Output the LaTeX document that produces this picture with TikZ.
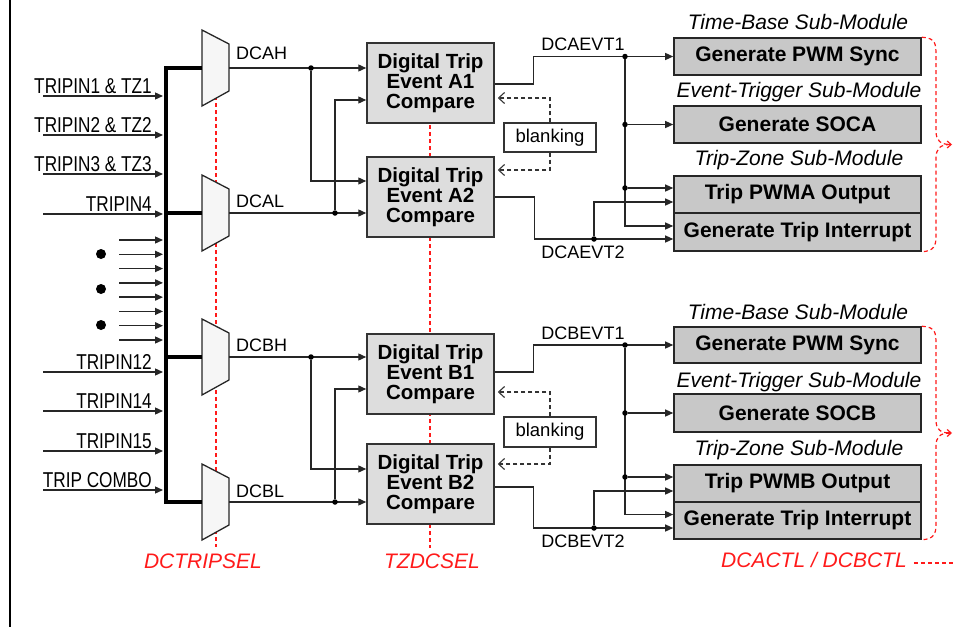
\documentclass[tikz,border=0pt]{standalone}
\usepackage{fontspec}
\setmainfont{Liberation Sans}
\newfontfamily\narrowfont{Liberation Sans}[FakeStretch=0.8]
\usetikzlibrary{arrows.meta,calc}
\definecolor{cmpfill}{HTML}{DDDDDD}
\definecolor{modfill}{HTML}{C8C8C8}
\definecolor{muxfill}{HTML}{F6F6F6}
\definecolor{regred}{HTML}{FF1A1A}
\tikzset{
  wire/.style={line width=1.3pt, draw=black!85},
  arr/.style={wire, -{Triangle[length=8pt,width=7pt]}},
  busline/.style={line width=3.2pt, draw=black},
  jdot/.style={circle, fill=black, inner sep=0pt, minimum size=5.5pt},
  bigdot/.style={circle, fill=black, inner sep=0pt, minimum size=10pt},
  cmpbox/.style={draw=black!80, line width=1.5pt, fill=cmpfill, minimum width=127pt, minimum height=80pt,
    inner sep=0pt, align=center, font=\fontsize{20.5}{20}\selectfont\bfseries},
  modbox/.style={draw=black!85, line width=1.6pt, fill=modfill, minimum width=247pt, minimum height=37pt,
    inner sep=0pt, font=\fontsize{21}{22}\selectfont\bfseries},
  sublbl/.style={inner sep=0pt, font=\fontsize{21}{22}\selectfont\itshape},
  siglbl/.style={inner sep=0pt, font=\fontsize{18}{20}\selectfont},
  tripin/.style={inner sep=0pt, anchor=base east, font=\narrowfont\fontsize{21.5}{22}\selectfont},
  blankbox/.style={draw=black!80, line width=1.1pt, fill=white, minimum width=92pt, minimum height=29pt,
    inner sep=0pt, font=\fontsize{18.5}{20}\selectfont},
  dasharr/.style={draw=black!80, line width=1.1pt, dash pattern=on 4pt off 3pt,
    -{Straight Barb[length=6pt,width=11pt]}, shorten >=3pt},
  reddash/.style={draw=regred, line width=1.2pt, dash pattern=on 4pt off 3pt},
  redlbl/.style={inner sep=0pt, text=regred, font=\fontsize{21}{22}\selectfont\itshape},
  mux/.pic={\draw[line width=1.3pt, draw=black!85, fill=muxfill] (-13.5,-38) -- (13.5,-24) -- (13.5,23) -- (-13.5,38) -- cycle;
    \coordinate (-in) at (-13.5,0); \coordinate (-out) at (13.5,0);}
}
\begin{document}
\begin{tikzpicture}[x=1pt,y=-1pt]
\useasboundingbox (0,0) rectangle (954,627);
% frame edge
\coordinate (fr1) at (10,0); \coordinate (fr2) at (10,627);
\draw[line width=2.5pt] (fr1) -- (fr2);

% register select lines (behind)
\coordinate (selA) at (216,68); \coordinate (selB) at (216,547);
\draw[reddash] (selA) -- (selB);
\coordinate (tzA) at (430,83); \coordinate (tzB) at (430,548);
\draw[reddash] (tzA) -- (tzB);

% inputs
\foreach \y/\t [count=\i] in {96/{TRIPIN1 \& TZ1},135/{TRIPIN2 \& TZ2},174/{TRIPIN3 \& TZ3},214/{TRIPIN4},
   372/{TRIPIN12},411/{TRIPIN14},451/{TRIPIN15},490/{TRIP COMBO}}{
  \coordinate (ins\i) at (43,\y); \coordinate (ine\i) at (163,\y);
  \draw[arr] (ins\i) -- (ine\i);
  \node[tripin] (inl\i) at (152,\y-2.5) {\t};
}
\foreach \k in {0,...,7}{
  \coordinate (sms\k) at (119,240+14.286*\k); \coordinate (sme\k) at (163,240+14.286*\k);
  \draw[arr] (sms\k) -- (sme\k);
}
\node[bigdot] (dd1) at (101,254) {};
\node[bigdot] (dd2) at (101,289) {};
\node[bigdot] (dd3) at (101,325) {};

% muxes
\pic (mAH) at (215.5,68) {mux};
\pic (mAL) at (215.5,213) {mux};
\pic (mBH) at (215.5,357) {mux};
\pic (mBL) at (215.5,502) {mux};

% bus
\coordinate (busT) at (166,68); \coordinate (busB) at (166,502);
\coordinate (busAL) at (166,213); \coordinate (busBH) at (166,357);
\draw[busline] (mAH-in) -- (busT) -- (busB) -- (mBL-in);
\draw[busline] (busAL) -- (mAL-in);
\draw[busline] (busBH) -- (mBH-in);

\node[siglbl, anchor=west] (lAH) at (236,53) {DCAH};
\node[siglbl, anchor=west] (lAL) at (236,201) {DCAL};
\node[siglbl, anchor=west] (lBH) at (236,345) {DCBH};
\node[siglbl, anchor=west] (lBL) at (236,491) {DCBL};

% compare blocks
\node[cmpbox] (A1) at (430.5,83) {Digital Trip\\Event A1\\Compare};
\node[cmpbox] (A2) at (430.5,197) {Digital Trip\\Event A2\\Compare};
\node[cmpbox] (B1) at (430.5,374) {Digital Trip\\Event B1\\Compare};
\node[cmpbox] (B2) at (430.5,484) {Digital Trip\\Event B2\\Compare};

% A inputs
\draw[arr] (mAH-out) -- (A1.west |- mAH-out);
\draw[arr] (mAL-out) -- (A2.west |- mAL-out);
\node[jdot] (jAH) at (311,68) {};
\node[jdot] (jAL) at (335,213) {};
\draw[arr] (jAH) |- ($(A2.west)+(0,-16)$);
\draw[arr] (jAL) |- ($(A1.west)+(0,17)$);
% B inputs
\draw[arr] (mBH-out) -- (B1.west |- mBH-out);
\draw[arr] (mBL-out) -- (B2.west |- mBL-out);
\node[jdot] (jBH) at (311,357) {};
\node[jdot] (jBL) at (335,502) {};
\draw[arr] (jBH) |- ($(B2.west)+(0,-15)$);
\draw[arr] (jBL) |- ($(B1.west)+(0,15)$);

% blanking
\node[blankbox] (blA) at (550,137.5) {blanking};
\node[blankbox, minimum height=30pt] (blB) at (550,432) {blanking};
\draw[dasharr] (blA.north) |- ($(A1.east)+(0,15)$);
\draw[dasharr] (blA.south) |- ($(A2.east)+(0,-27)$);
\draw[dasharr] (blB.north) |- ($(B1.east)+(0,18)$);
\draw[dasharr] (blB.south) |- ($(B2.east)+(0,-20)$);

% right modules A
\node[sublbl] (tbA) at (798,22) {Time-Base Sub-Module};
\node[modbox] (SyncA) at (797.5,56.5) {Generate PWM Sync};
\node[sublbl] (etA) at (799,92) {Event-Trigger Sub-Module};
\node[modbox] (SocA) at (797.5,124.5) {Generate SOCA};
\node[sublbl] (tzlA) at (799,160) {Trip-Zone Sub-Module};
\node[modbox] (TripA) at (797.5,194.5) {Trip PWMA Output};
\node[modbox, minimum height=38pt] (IntA) at (797.5,232) {Generate Trip Interrupt};

% right modules B
\node[sublbl] (tbB) at (798,312) {Time-Base Sub-Module};
\node[modbox, minimum height=36pt] (SyncB) at (797.5,345) {Generate PWM Sync};
\node[sublbl] (etB) at (799,382) {Event-Trigger Sub-Module};
\node[modbox, minimum height=38pt] (SocB) at (797.5,413) {Generate SOCB};
\node[sublbl] (tzlB) at (799,450) {Trip-Zone Sub-Module};
\node[modbox] (TripB) at (797.5,483.5) {Trip PWMB Output};
\node[modbox] (IntB) at (797.5,520.5) {Generate Trip Interrupt};

% A event wiring
\draw[arr] ($(A1.east)+(0,1)$) -- ++(39,0) |- (SyncA.west);
\node[jdot] (jA1) at (625,56.5) {};
\draw[arr] (jA1) |- ($(IntA.west)+(0,-6)$);
\node[jdot] (jA1s) at (625,124.5) {};
\draw[arr] (jA1s) -- (SocA.west);
\node[jdot] (jA1t) at (625,188) {};
\draw[arr] (jA1t) -- (TripA.west |- jA1t);
\draw[arr] (A2.east) -- ++(40,0) |- ($(IntA.west)+(0,7)$);
\node[jdot] (jA2) at (594,239) {};
\draw[arr] (jA2) |- ($(TripA.west)+(0,7.5)$);
\node[siglbl] (evA1) at (583,44) {DCAEVT1};
\node[siglbl] (evA2) at (583,252) {DCAEVT2};

% B event wiring
\draw[arr] ($(B1.east)+(0,-2)$) -- ++(39,0) |- (SyncB.west);
\node[jdot] (jB1) at (625,345) {};
\draw[arr] (jB1) |- ($(IntB.west)+(0,-6)$);
\node[jdot] (jB1s) at (625,413) {};
\draw[arr] (jB1s) -- (SocB.west);
\node[jdot] (jB1t) at (625,477) {};
\draw[arr] (jB1t) -- (TripB.west |- jB1t);
\draw[arr] ($(B2.east)+(0,3)$) -- ++(39,0) |- ($(IntB.west)+(0,7.5)$);
\node[jdot] (jB2) at (594,528) {};
\draw[arr] (jB2) |- ($(TripB.west)+(0,7.5)$);
\node[siglbl] (evB1) at (583,333) {DCBEVT1};
\node[siglbl] (evB2) at (583,541) {DCBEVT2};

% braces
\draw[reddash] (SyncA.north east) .. controls (936,38) and (936,44) .. (936,56) -- (936,131)
   .. controls (936,140) and (940,144.5) .. (950,144.5);
\draw[reddash] (950,144.5) .. controls (940,144.5) and (936,149) .. (936,158) -- (936,236)
   .. controls (936,246) and (934,251) .. (IntA.south east);
\coordinate (tipAs) at (946,144.5); \coordinate (tipAe) at (952,144.5);
\draw[draw=regred, line width=1.2pt, -{Straight Barb[length=4pt,width=7pt]}] (tipAs) -- (tipAe);
\draw[reddash] (SyncB.north east) .. controls (936,327) and (936,333) .. (936,345) -- (936,420)
   .. controls (936,429) and (940,433) .. (950,433);
\draw[reddash] (950,433) .. controls (940,433) and (936,437) .. (936,446) -- (936,524)
   .. controls (936,534) and (934,539) .. (IntB.south east);
\coordinate (tipBs) at (946,433); \coordinate (tipBe) at (952,433);
\draw[draw=regred, line width=1.2pt, -{Straight Barb[length=4pt,width=7pt]}] (tipBs) -- (tipBe);

% register labels
\node[redlbl] (rsel) at (203,561) {DCTRIPSEL};
\node[redlbl] (rtz) at (432,561) {TZDCSEL};
\node[redlbl] (rctl) at (814,560) {DCACTL / DCBCTL};
\coordinate (ctlE) at (954,563);
\draw[reddash] ($(rctl.east)+(7,3)$) -- (ctlE);
\end{tikzpicture}
\end{document}
